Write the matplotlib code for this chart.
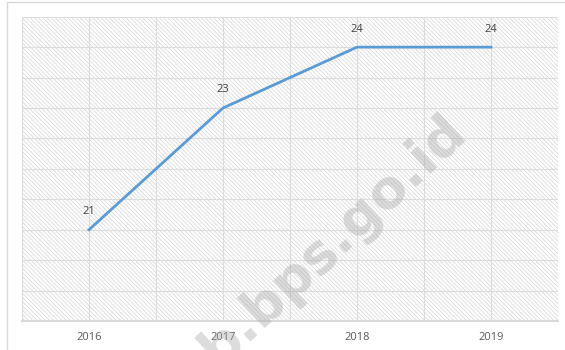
import matplotlib.pyplot as plt
from matplotlib.patches import Rectangle
from matplotlib.ticker import MultipleLocator

years = ['2016', '2017', '2018', '2019']
values = [21, 23, 24, 24]

plt.rcParams['hatch.linewidth'] = 0.6
plt.rcParams['font.family'] = ['Open Sans', 'DejaVu Sans']

fig = plt.figure(figsize=(5.65, 3.5), dpi=100)

# light frame around the chart
fig.patches.append(Rectangle((7 / 565, -0.5), 2, 0.5 + 1 - 2 / 350,
                             transform=fig.transFigure, fill=False,
                             edgecolor='#d9d9d9', linewidth=1.0))

ax = fig.add_axes([22 / 565, 1 - 321 / 350, 536 / 565, 304.3 / 350])

# diagonal hatch fill of the plot area
ax.add_patch(Rectangle((0, 0), 1, 1, transform=ax.transAxes,
                       facecolor='white', edgecolor='#dadada',
                       linewidth=0, hatch='\\' * 8, zorder=0))

x = list(range(len(years)))
ax.plot(x, values, color='#5b9bd5', linewidth=2, zorder=3)

for xi, v in zip(x, values):
    ax.annotate(str(v), (xi, v), xytext=(0, 9), textcoords='offset points',
                ha='center', va='bottom', fontsize=8, color='#404040')

ax.set_xlim(-0.5, 3.5)
ax.set_ylim(19.5, 24.5)
ax.xaxis.set_minor_locator(MultipleLocator(0.5))
ax.yaxis.set_major_locator(MultipleLocator(0.5))
ax.set_xticks(x)
ax.set_xticklabels(years, fontsize=8, color='#595959')
ax.tick_params(axis='x', length=0, pad=8)
ax.tick_params(axis='x', which='minor', length=0)
ax.tick_params(axis='y', length=0, labelleft=False)
ax.grid(True, which='both', color='#dcdcdc', linewidth=0.8, zorder=1)
ax.set_axisbelow(True)

for side in ['top', 'left', 'right']:
    ax.spines[side].set_visible(False)
ax.spines['bottom'].set_color('#d9d9d9')
ax.spines['bottom'].set_linewidth(1.5)

# site watermark running diagonally across the plot
fig.text(0.59, 0.315, 'b.bps.go.id', rotation=43, fontsize=39,
         fontweight='bold', color='#a8a8a8', alpha=0.4,
         ha='center', va='center', family='DejaVu Sans', zorder=5)

fig.savefig('out.png', dpi=100)
